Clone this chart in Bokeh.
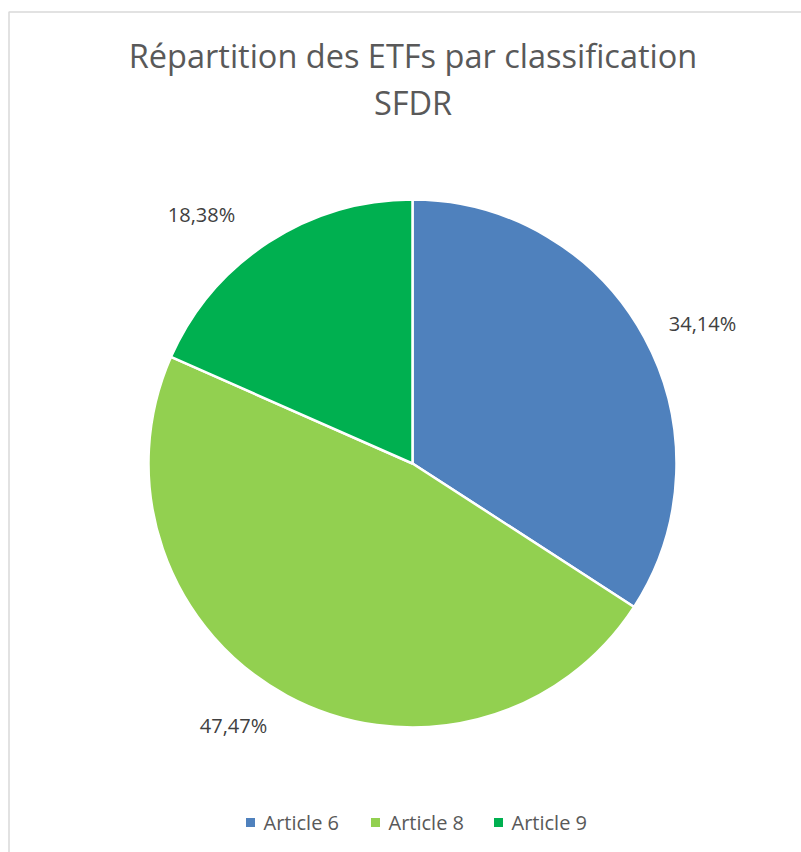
import numpy as np
from bokeh.plotting import figure
from bokeh.models import Range1d
from bokeh.core.properties import value
from bokeh.embed import file_html
from bokeh.resources import INLINE

# ---- data ----
categories = ["Article 6", "Article 8", "Article 9"]
shares = [34.14, 47.47, 18.38]
colors = ["#4F81BD", "#92D050", "#00B050"]
title_lines = ["Répartition des ETFs par classification", "SFDR"]

# ---- layout ----
W, H = 801, 852
FONT = "Open Sans"
CX, CY, R = 412, 463, 264
LABEL_POS = [(702, 323), (233, 725), (201, 214)]
LEGEND_SQ_X = [250, 375, 498]
LEGEND_Y = 822


def Y(y):
    return H - y


p = figure(width=W, height=H, x_range=Range1d(0, W), y_range=Range1d(0, H),
           output_backend="svg", toolbar_location=None, min_border=0)
p.axis.visible = False
p.grid.visible = False
p.outline_line_color = None
p.background_fill_color = "white"
p.border_fill_color = "white"

# chart area border
p.quad(left=8.5, right=W + 10, top=Y(11.5), bottom=-10,
       fill_color=None, line_color="#D9D9D9", line_width=1.5)

# pie
fr = np.array(shares) / np.sum(shares)
ends = np.pi / 2 - 2 * np.pi * np.cumsum(fr)
starts = np.concatenate([[np.pi / 2], ends[:-1]])
p.wedge(x=CX, y=Y(CY), radius=R, start_angle=starts, end_angle=ends,
        direction="clock", fill_color=colors, line_color="white", line_width=2.5)

# data labels
labels = [f"{s:.2f}%".replace(".", ",") for s in shares]
p.text(x=[q[0] for q in LABEL_POS], y=[Y(q[1]) for q in LABEL_POS], text=labels,
       text_font=value(FONT), text_font_size="20px", text_color="#404040",
       text_align="center", text_baseline="middle")

# title
p.text(x=[W / 2 + 12, W / 2 + 12], y=[Y(55), Y(102)], text=title_lines,
       text_font=value(FONT), text_font_size="32.5px", text_color="#595959",
       text_align="center", text_baseline="middle")

# legend
p.rect(x=LEGEND_SQ_X, y=[Y(LEGEND_Y)] * 3, width=9, height=9,
       width_units="screen", height_units="screen", fill_color=colors, line_color=None)
p.text(x=[x + 13 for x in LEGEND_SQ_X], y=[Y(LEGEND_Y)] * 3, text=categories,
       text_font=value(FONT), text_font_size="20px", text_color="#595959",
       text_align="left", text_baseline="middle")

open("out.html", "w").write(file_html(p, INLINE))
